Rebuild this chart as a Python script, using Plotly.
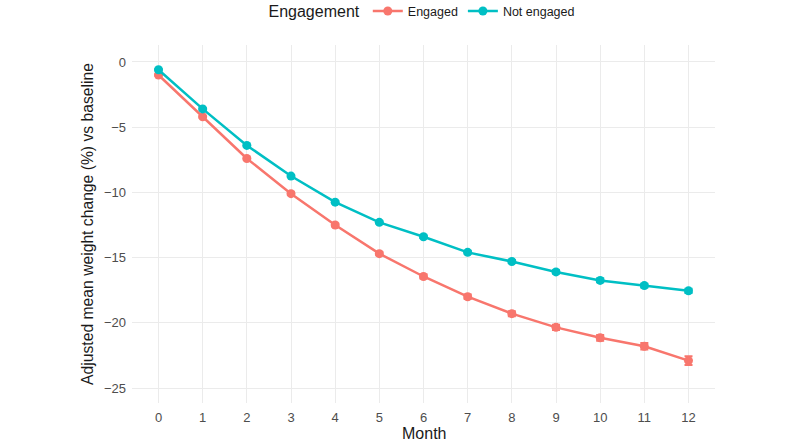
import plotly.graph_objects as go

months = list(range(13))
engaged = [-1.0, -4.2, -7.4, -10.1, -12.5, -14.7, -16.45, -18.0, -19.3, -20.35, -21.15, -21.8, -22.9]
engaged_se = [0.05, 0.06, 0.08, 0.1, 0.12, 0.13, 0.15, 0.17, 0.19, 0.2, 0.22, 0.25, 0.33]
not_engaged = [-0.6, -3.6, -6.4, -8.75, -10.75, -12.3, -13.4, -14.6, -15.3, -16.1, -16.75, -17.15, -17.55]
not_engaged_se = [0.04, 0.05, 0.06, 0.07, 0.08, 0.09, 0.1, 0.11, 0.12, 0.13, 0.14, 0.15, 0.16]

RED = "#F8766D"
CYAN = "#00BFC4"
FONT = "Liberation Sans"

fig = go.Figure()
for name, vals, se, col in [("Engaged", engaged, engaged_se, RED),
                            ("Not engaged", not_engaged, not_engaged_se, CYAN)]:
    fig.add_trace(go.Scatter(
        x=months, y=vals, name=name, mode="lines+markers",
        line=dict(color=col, width=2.5),
        marker=dict(color=col, size=9),
        error_y=dict(type="data", array=se, visible=True, color=col, thickness=2, width=4),
    ))

fig.update_layout(
    width=800, height=441,
    margin=dict(l=132, r=85, t=45, b=38),
    paper_bgcolor="white", plot_bgcolor="white",
    font=dict(family=FONT, color="#4d4d4d"),
    showlegend=True,
    legend=dict(orientation="h", x=0.5, xanchor="center", y=0.973, yanchor="middle",
                yref="container",
                title=dict(text="Engagement", font=dict(size=16, color="#1a1a1a")),
                font=dict(size=12.5, color="#1a1a1a"), itemwidth=30),
    xaxis=dict(range=[-0.6, 12.6], tickvals=months, ticktext=[str(m) for m in months],
               showgrid=True, gridcolor="#EBEBEB", gridwidth=1.2, zeroline=False,
               showline=False, ticks="", tickfont=dict(size=13, color="#4d4d4d"),
               ticklabelstandoff=5, automargin=False),
    yaxis=dict(range=[-26.15, 1.3], tickvals=[0, -5, -10, -15, -20, -25],
               ticktext=["0", "\u22125", "\u221210", "\u221215", "\u221220", "\u221225"],
               showgrid=True, gridcolor="#EBEBEB", gridwidth=1.2, zeroline=False,
               showline=False, ticks="", tickfont=dict(size=13, color="#4d4d4d"),
               ticklabelstandoff=5, automargin=False,
               title=dict(text="Adjusted mean weight change (%) vs baseline",
                          font=dict(size=15.7, color="#1a1a1a"), standoff=6)),
    annotations=[dict(text="Month", xref="paper", yref="paper", x=0.5, y=-0.084,
                      xanchor="center", yanchor="middle", showarrow=False,
                      font=dict(size=16, color="#1a1a1a", family=FONT))],
)

fig.write_html("out.html")
